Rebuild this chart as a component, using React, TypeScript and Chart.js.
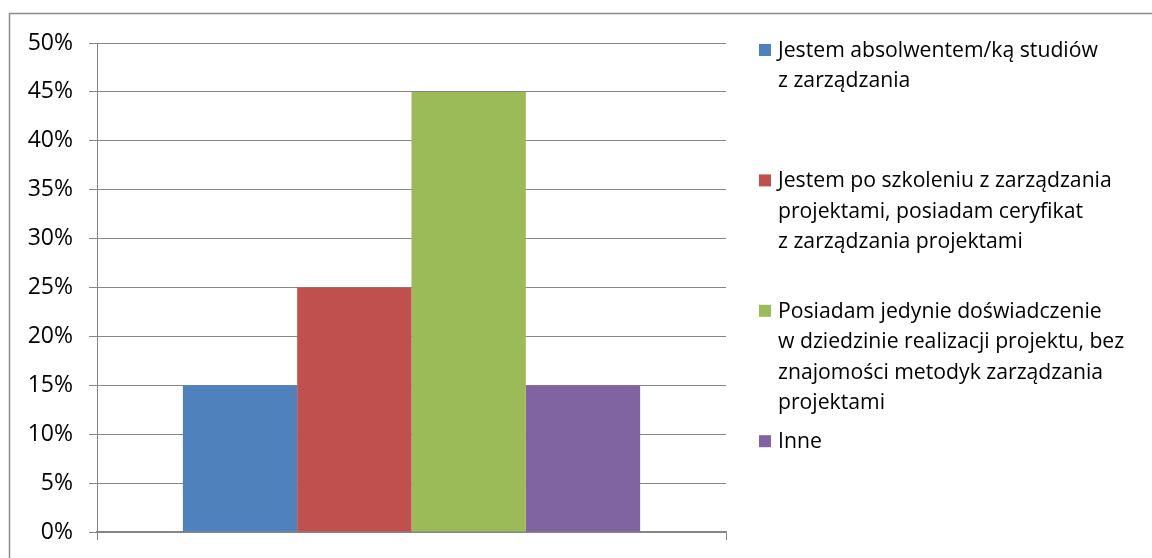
import React, { useEffect, useRef } from "react";
import { Chart, registerables } from "chart.js";

Chart.register(...registerables);

// One category, four survey answers, each shown as its own bar.
const CATEGORIES: string[] = [""];

const SERIES_LABELS: string[][] = [
  ["Jestem absolwentem/ką studiów", "z zarządzania"],
  ["Jestem po szkoleniu z zarządzania", "projektami, posiadam ceryfikat", "z zarządzania projektami"],
  [
    "Posiadam jedynie doświadczenie",
    "w dziedzinie realizacji projektu, bez",
    "znajomości metodyk zarządzania",
    "projektami",
  ],
  ["Inne"],
];

const SERIES_VALUES: number[] = [15, 25, 45, 15];

const SERIES_COLORS: string[] = ["#4F81BD", "#C0504D", "#9BBB59", "#8064A2"];

const Y_MIN = 0;
const Y_MAX = 50;
const Y_STEP = 5;

const GRID_COLOR = "#868686";
const FONT_FAMILY = "'Open Sans', 'Noto Sans', sans-serif";

// Outer frame of the chart object (only its top and left edges fall inside the view).
const framePlugin = {
  id: "frame",
  beforeDraw(chart: Chart) {
    const ctx = chart.ctx;
    ctx.save();
    ctx.fillStyle = "#ffffff";
    ctx.fillRect(0, 0, chart.width, chart.height);
    ctx.strokeStyle = "#8c8c8c";
    ctx.lineWidth = 1.5;
    ctx.strokeRect(9.5, 13.5, chart.width + 50, chart.height + 50);
    ctx.restore();
  },
};

// Legend on the right: square marker plus wrapped text, entries at an even pitch.
const sideLegendPlugin = {
  id: "sideLegend",
  afterDraw(chart: Chart) {
    const ctx = chart.ctx;
    const markerX = 759;
    const textX = 778;
    const firstBaseline = 57;
    const entryPitch = 130.4;
    const lineHeight = 30.4;
    const markerSize = 12;
    ctx.save();
    ctx.font = `21.2px ${FONT_FAMILY}`;
    ctx.textAlign = "left";
    ctx.textBaseline = "alphabetic";
    chart.data.datasets.forEach((ds: any, i: number) => {
      const base = firstBaseline + i * entryPitch;
      ctx.fillStyle = ds.backgroundColor as string;
      ctx.fillRect(markerX, base - 13, markerSize, markerSize);
      ctx.fillStyle = "#000000";
      const lines: string[] = ds.legendLines || [ds.label];
      lines.forEach((line, j) => {
        ctx.fillText(line, textX, base + j * lineHeight);
      });
    });
    ctx.restore();
  },
};

export default function App() {
  const canvasRef = useRef<HTMLCanvasElement | null>(null);

  useEffect(() => {
    const canvas = canvasRef.current;
    if (!canvas) return;

    const chart = new Chart(canvas, {
      type: "bar",
      data: {
        labels: CATEGORIES,
        datasets: SERIES_VALUES.map((v, i) => ({
          label: SERIES_LABELS[i].join(" "),
          legendLines: SERIES_LABELS[i],
          data: [v],
          backgroundColor: SERIES_COLORS[i],
          borderWidth: 0,
          categoryPercentage: 0.727,
          barPercentage: 1,
        })) as any,
      },
      options: {
        animation: false,
        responsive: false,
        maintainAspectRatio: false,
        layout: {
          padding: { left: 0, top: 43, right: 426, bottom: 0 },
        },
        plugins: {
          legend: { display: false },
          tooltip: { enabled: false },
          title: { display: false },
        },
        scales: {
          x: {
            grid: {
              offset: true,
              drawOnChartArea: false,
              drawTicks: true,
              tickLength: 8,
              color: GRID_COLOR,
              lineWidth: 1,
            },
            border: { display: true, color: GRID_COLOR, width: 1.5 },
            ticks: { display: false },
            afterFit: (scale: any) => {
              scale.height = 26;
            },
          },
          y: {
            min: Y_MIN,
            max: Y_MAX,
            grid: {
              color: GRID_COLOR,
              lineWidth: 1,
              drawTicks: true,
              tickLength: 8,
            },
            border: { display: true, color: GRID_COLOR, width: 1 },
            ticks: {
              stepSize: Y_STEP,
              padding: 16,
              color: "#000000",
              font: { family: FONT_FAMILY, size: 23 },
              callback: (value: any) => `${value}%`,
            },
            afterFit: (scale: any) => {
              scale.width = 97;
              // the label gap should not push the plot area inward vertically
              scale.paddingTop = 0;
              scale.paddingBottom = 0;
            },
          },
        },
      },
      plugins: [framePlugin, sideLegendPlugin],
    });

    return () => {
      chart.destroy();
    };
  }, []);

  return (
    <div style={{ position: "absolute", left: 0, top: 0, width: 1152, height: 558 }}>
      <canvas ref={canvasRef} width={1152} height={558} style={{ display: "block" }} />
    </div>
  );
}
